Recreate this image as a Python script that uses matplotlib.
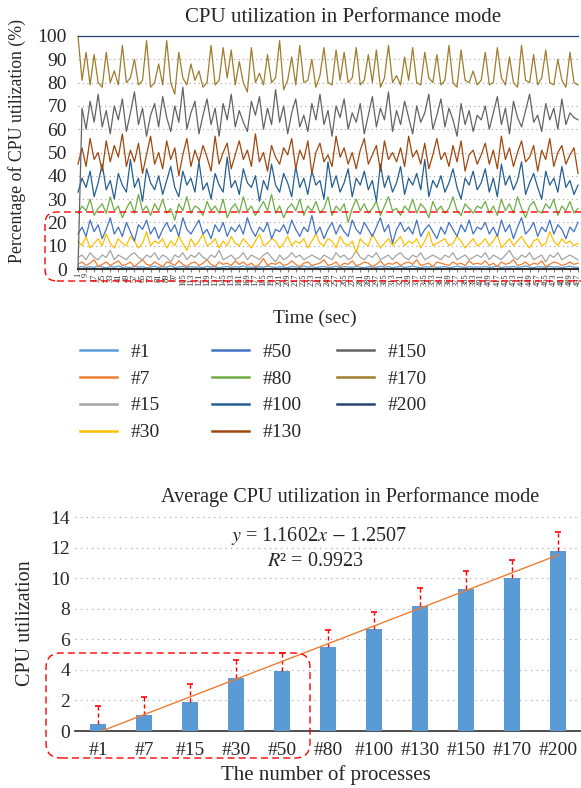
import matplotlib
matplotlib.use("Agg")
import matplotlib.pyplot as plt
from matplotlib.patches import FancyBboxPatch

# ---- top chart: CPU utilization (%) sampled every 4 s ----
time_sec = list(range(1, 498, 4))
tick_sec = list(range(1, 498, 8))

cpu_1 = [0.8, 1.1, 0.6, 1.0, 0.7, 1.2, 0.9, 0.5, 1.0, 0.8,
         1.3, 0.7, 0.9, 0.6, 1.1, 0.8, 1.0, 0.5, 0.9, 1.2,
         0.7, 1.0, 0.8, 1.4, 0.6, 0.9, 1.1, 0.7, 1.0, 0.8,
         0.9, 0.6, 1.2, 0.8, 1.0, 0.5, 0.9, 1.1, 0.7, 1.0,
         0.8, 1.3, 0.7, 0.9, 0.6, 1.0, 0.8, 1.2, 0.9, 0.7,
         1.0, 0.8, 0.6, 1.1, 0.9, 0.7, 1.3, 0.8, 1.0, 0.6,
         0.9, 1.1, 0.7, 0.8, 1.2, 0.6, 1.0, 0.9, 0.7, 1.1,
         0.8, 0.5, 1.0, 0.9, 0.7, 1.2, 0.8, 1.0, 0.6, 0.9,
         1.1, 0.7, 0.9, 1.3, 0.8, 0.6, 1.0, 0.8, 1.1, 0.7,
         0.9, 1.0, 0.6, 0.8, 1.2, 0.9, 0.7, 1.0, 0.8, 0.9,
         0.8, 1.1, 0.7, 0.9, 1.2, 0.6, 1.0, 0.8, 1.1, 0.7,
         0.9, 1.3, 0.8, 0.6, 1.0, 0.9, 0.7, 1.1, 0.8, 1.0,
         0.6, 0.9, 1.2, 0.8, 0.7]
cpu_7 = [2, 3, 1.5, 2.5, 4, 1, 2, 3, 1.5, 2.5,
         3.5, 1.5, 2, 3, 1, 2.5, 4, 2, 1.5, 3,
         2, 1, 3, 2.5, 1.5, 3.5, 2, 1, 2.5, 3,
         1.5, 2.5, 4, 2, 1, 3, 2, 2.5, 1.5, 3.5,
         2, 3, 1.5, 2.5, 1, 2, 4.5, 1.5, 2.5, 2,
         3, 1.5, 2, 3.5, 2, 1, 2.5, 3, 1.5, 2,
         2.5, 4, 1.5, 2, 3, 1, 2.5, 2, 3.5, 1.5,
         2, 3, 2.5, 1, 2, 3.5, 1.5, 2.5, 2, 3,
         1.5, 2.5, 3, 2, 4, 1.5, 2, 2.5, 1, 3,
         2.5, 2, 1.5, 3, 2, 2.5, 1.5, 3.5, 2, 2.5,
         2, 3.5, 1.5, 2.5, 1, 3, 2, 2.5, 4, 1.5,
         2, 3, 1.5, 2.5, 2, 3.5, 1, 2, 3, 2.5,
         1.5, 2, 3, 2, 2.5]
cpu_15 = [5, 6, 4, 7, 5, 4, 6, 5, 8, 4,
          6, 5, 4, 6, 7, 5, 4, 6, 5, 7,
          4, 6, 5, 3, 6, 5, 7, 4, 6, 5,
          7, 5, 4, 6, 5, 8, 4, 5, 6, 4,
          5, 7, 4, 6, 5, 4, 6, 7, 5, 3,
          6, 4, 5, 7, 5, 6, 4, 5, 6, 5,
          4, 6, 5, 4, 7, 5, 6, 4, 5, 8,
          5, 4, 6, 5, 7, 4, 5, 6, 4, 6,
          7, 5, 4, 6, 5, 7, 4, 5, 6, 5,
          4, 6, 5, 7, 4, 5, 6, 4, 5, 6,
          5, 7, 4, 6, 5, 4, 6, 8, 5, 4,
          6, 5, 7, 4, 5, 6, 3, 6, 5, 7,
          4, 5, 6, 5, 4]
cpu_30 = [12, 10, 14, 9, 11, 13, 10, 15, 11, 9,
          13, 11, 10, 14, 12, 9, 11, 16, 10, 12,
          11, 13, 9, 12, 10, 14, 11, 8, 13, 10,
          12, 15, 10, 11, 13, 9, 12, 10, 14, 11,
          10, 13, 11, 9, 12, 15, 10, 11, 13, 12,
          9, 11, 14, 10, 12, 11, 13, 9, 12, 15,
          11, 10, 13, 12, 9, 14, 11, 10, 12, 7,
          13, 11, 10, 15, 12, 9, 11, 13, 10, 12,
          14, 10, 12, 11, 13, 9, 12, 16, 10, 11,
          12, 13, 10, 11, 14, 12, 9, 11, 13, 10,
          11, 13, 10, 12, 15, 9, 11, 13, 10, 12,
          14, 11, 9, 12, 13, 10, 11, 16, 12, 10,
          13, 11, 12, 10, 11]
cpu_50 = [15, 18, 14, 21, 16, 19, 13, 17, 22, 15,
          18, 14, 20, 16, 12, 19, 17, 21, 15, 18,
          13, 17, 20, 16, 19, 14, 22, 17, 15, 18,
          21, 15, 17, 13, 19, 16, 20, 14, 18, 16,
          19, 15, 22, 17, 14, 18, 16, 20, 13, 17,
          16, 19, 15, 21, 17, 14, 18, 16, 23, 15,
          18, 13, 17, 20, 15, 19, 16, 14, 21, 17,
          15, 20, 17, 14, 18, 22, 16, 19, 11, 17,
          20, 16, 18, 15, 21, 14, 17, 19, 16, 13,
          18, 15, 20, 17, 14, 19, 16, 21, 15, 18,
          17, 20, 15, 18, 14, 21, 16, 19, 13, 18,
          22, 15, 17, 20, 14, 18, 16, 21, 15, 19,
          17, 13, 18, 16, 20]
cpu_80 = [24, 27, 25, 30, 23, 26, 28, 24, 31, 25,
          27, 22, 26, 29, 24, 32, 25, 27, 23, 28,
          25, 30, 24, 26, 21, 28, 25, 31, 24, 27,
          26, 23, 29, 25, 27, 24, 30, 22, 26, 28,
          24, 31, 25, 27, 23, 26, 29, 25, 32, 24,
          27, 22, 26, 28, 25, 30, 23, 27, 25, 29,
          24, 26, 31, 23, 27, 25, 28, 20, 26, 30,
          25, 28, 24, 26, 29, 23, 27, 31, 25, 26,
          23, 27, 25, 30, 24, 28, 26, 22, 29, 25,
          27, 24, 26, 31, 25, 23, 28, 26, 24, 27,
          26, 29, 24, 27, 23, 30, 25, 28, 24, 31,
          26, 22, 27, 29, 25, 24, 28, 26, 30, 23,
          27, 25, 29, 24, 26]
cpu_100 = [33, 39, 35, 42, 31, 37, 45, 34, 38, 30,
           41, 36, 33, 47, 35, 39, 29, 43, 37, 34,
           40, 32, 38, 44, 35, 31, 42, 36, 39, 33,
           46, 34, 37, 30, 41, 36, 33, 48, 35, 38,
           32, 43, 37, 35, 40, 29, 38, 34, 45, 36,
           33, 41, 37, 31, 44, 35, 39, 32, 42, 36,
           38, 30, 46, 35, 40, 33, 37, 43, 31, 39,
           36, 42, 34, 38, 29, 45, 35, 40, 33, 37,
           44, 32, 39, 36, 41, 34, 47, 31, 38, 35,
           40, 33, 37, 43, 35, 30, 39, 36, 42, 34,
           37, 43, 33, 39, 31, 45, 36, 40, 34, 38,
           46, 32, 37, 41, 35, 30, 42, 36, 39, 33,
           44, 35, 38, 32, 36]
cpu_130 = [45, 52, 44, 56, 47, 50, 42, 55, 46, 53,
           48, 58, 44, 51, 46, 54, 41, 49, 57, 45,
           50, 43, 55, 47, 52, 40, 49, 56, 44, 51,
           46, 53, 48, 42, 57, 45, 50, 54, 43, 49,
           55, 47, 51, 44, 58, 46, 50, 42, 53, 48,
           45, 52, 49, 56, 43, 51, 47, 55, 41, 50,
           54, 46, 49, 44, 57, 48, 52, 45, 50, 43,
           51, 56, 45, 49, 53, 42, 55, 47, 50, 46,
           52, 44, 57, 48, 51, 45, 54, 43, 49, 56,
           47, 50, 44, 53, 46, 55, 42, 49, 51, 45,
           49, 54, 45, 51, 43, 57, 47, 52, 44, 50,
           55, 46, 48, 53, 42, 51, 47, 56, 44, 50,
           53, 45, 49, 52, 41]
cpu_150 = [0, 69, 60, 72, 63, 75, 61, 68, 58, 70,
           64, 73, 59, 67, 76, 62, 69, 57, 66, 71,
           61, 74, 65, 59, 70, 63, 78, 60, 67, 72,
           58, 66, 73, 62, 69, 57, 71, 64, 75, 61,
           68, 63, 59, 72, 66, 74, 60, 69, 62, 77,
           63, 70, 58, 67, 73, 61, 66, 59, 71, 64,
           75, 62, 68, 57, 70, 65, 73, 60, 67, 63,
           71, 58, 66, 74, 61, 69, 64, 76, 59, 68,
           62, 72, 65, 58, 70, 63, 67, 75, 60, 66,
           73, 61, 69, 64, 57, 71, 62, 68, 59, 66,
           64, 70, 60, 67, 74, 62, 69, 58, 72, 65,
           61, 68, 75, 63, 66, 59, 71, 64, 69, 60,
           73, 62, 67, 65, 64]
cpu_170 = [100, 81, 93, 79, 92, 80, 78, 93, 80, 85,
           79, 96, 80, 82, 90, 79, 81, 98, 78, 80,
           88, 79, 98, 80, 75, 93, 82, 79, 88, 81,
           85, 78, 80, 96, 79, 81, 95, 82, 94, 79,
           89, 80, 76, 95, 80, 84, 79, 92, 80, 82,
           98, 77, 81, 91, 79, 96, 80, 81, 90, 78,
           83, 95, 80, 79, 94, 81, 93, 80, 82, 95,
           79, 81, 92, 80, 94, 78, 82, 96, 80, 83,
           79, 91, 81, 95, 80, 79, 93, 82, 80, 92,
           79, 81, 96, 80, 78, 94, 81, 80, 85, 79,
           81, 93, 79, 80, 95, 82, 79, 91, 80, 78,
           96, 81, 80, 92, 79, 82, 94, 80, 79, 90,
           81, 78, 93, 80, 79]
cpu_200 = [100.0] * len(time_sec)

series_names = ["#1", "#7", "#15", "#30", "#50", "#80",
                "#100", "#130", "#150", "#170", "#200"]
series_values = [cpu_1, cpu_7, cpu_15, cpu_30, cpu_50, cpu_80,
                 cpu_100, cpu_130, cpu_150, cpu_170, cpu_200]
series_colors = ["#5B9BD5", "#ED7D31", "#A5A5A5", "#FFC000", "#4472C4",
                 "#70AD47", "#255E91", "#9E480E", "#636363", "#9E7D2C",
                 "#264478"]

# ---- bottom chart: average CPU utilization ----
processes = ["#1", "#7", "#15", "#30", "#50", "#80",
             "#100", "#130", "#150", "#170", "#200"]
avg_cpu = [0.46, 1.05, 1.92, 3.47, 3.92, 5.49, 6.67, 8.18, 9.31, 10.0, 11.77]
avg_err = [1.17, 1.19, 1.15, 1.17, 1.16, 1.14, 1.13, 1.19, 1.17, 1.18, 1.23]
fit_slope = 1.1602
fit_intercept = -1.2507
fit_r2 = 0.9923

W, H = 581, 788
TXT = "#262626"


def fx(px):
    return px / W


def fy(py):
    return 1 - py / H


def main():
    plt.rcParams["font.family"] = ["Liberation Serif", "DejaVu Serif"]
    plt.rcParams["mathtext.fontset"] = "stix"
    plt.rcParams["text.color"] = TXT
    plt.rcParams["xtick.color"] = TXT
    plt.rcParams["ytick.color"] = TXT

    fig = plt.figure(figsize=(W / 100, H / 100), dpi=100)

    # Top chart
    ax1 = fig.add_axes([fx(78), fy(269), fx(500), 233 / H])
    lines = []
    for name, vals, col in zip(series_names, series_values, series_colors):
        ln, = ax1.plot(time_sec, vals, color=col, lw=0.9, label=name,
                       clip_on=False)
        lines.append(ln)
    ax1.set_xlim(1, 497)
    ax1.set_ylim(0, 100)
    ax1.set_yticks(range(0, 101, 10))
    ax1.set_xticks(tick_sec)
    ax1.set_xticklabels([str(t) for t in tick_sec], rotation=90, fontsize=6)
    ax1.tick_params(axis="y", length=0, labelsize=14, pad=8)
    ax1.tick_params(axis="x", length=2, pad=1, color="#808080")
    ax1.yaxis.grid(True, ls=(0, (1, 3)), color="#A0A0A0", lw=0.8)
    ax1.set_axisbelow(True)
    for s in ["top", "right", "left"]:
        ax1.spines[s].set_visible(False)
    ax1.spines["bottom"].set_color("#303030")
    ax1.spines["bottom"].set_linewidth(1.5)

    fig.text(fx(343), fy(17), "CPU utilization in Performance mode",
             ha="center", va="center", fontsize=15)
    fig.text(fx(17), fy(141), "Percentage of CPU utilization (%)",
             ha="center", va="center", rotation=90, fontsize=12.8)
    fig.text(fx(315), fy(318), "Time (sec)", ha="center", va="center",
             fontsize=14)

    # Legend in three columns
    cols = [(80, lines[0:4]), (212, lines[4:8]), (337, lines[8:11])]
    for x0, hs in cols:
        leg = fig.legend(handles=hs, loc="upper left",
                         bbox_to_anchor=(fx(x0), fy(343)), frameon=False,
                         fontsize=14, handlelength=1.9, handletextpad=0.7,
                         labelspacing=0.48, borderpad=0, borderaxespad=0)
        for lh in leg.get_lines():
            lh.set_linewidth(1.8)

    # Bottom chart
    ax2 = fig.add_axes([fx(75), fy(731), fx(506), 214 / H])
    pos = list(range(len(processes)))
    ax2.bar(pos, avg_cpu, width=0.33, color="#5B9BD5", zorder=3)
    tops = [v + e for v, e in zip(avg_cpu, avg_err)]
    ax2.vlines(pos, avg_cpu, tops, colors="red", linestyles=(0, (3, 2)),
               lw=1.0, zorder=4)
    ax2.plot(pos, tops, ls="none", marker="_", color="red", ms=4, mew=1.2,
             zorder=4)
    fit_x = [pos[0], pos[-1]]
    fit_y = [fit_slope * (p + 1) + fit_intercept for p in fit_x]
    ax2.plot(fit_x, fit_y, color="#ED7D31", lw=1.0, zorder=5)
    ax2.set_xlim(-0.5, len(processes) - 0.5)
    ax2.set_ylim(0, 14)
    ax2.set_yticks(range(0, 15, 2))
    ax2.set_xticks(pos)
    ax2.set_xticklabels(processes)
    ax2.tick_params(axis="both", length=0, labelsize=14)
    ax2.tick_params(axis="x", pad=8)
    ax2.yaxis.grid(True, ls=(0, (1, 4)), color="#A0A0A0", lw=0.8)
    ax2.set_axisbelow(True)
    for s in ["top", "right", "left"]:
        ax2.spines[s].set_visible(False)
    ax2.spines["bottom"].set_color("#303030")
    ax2.spines["bottom"].set_linewidth(1.2)

    fig.text(fx(350), fy(497), "Average CPU utilization in Performance mode",
             ha="center", va="center", fontsize=14.6)
    fig.text(fx(26), fy(623), "CPU utilization", ha="center", va="center",
             rotation=90, fontsize=14.5)
    fig.text(fx(326), fy(775), "The number of processes", ha="center",
             va="center", fontsize=15)
    fig.text(fx(319), fy(536),
             r"$y$ = %.4f$x$ $-$ %.4f" % (fit_slope, -fit_intercept),
             ha="center", va="center", fontsize=14.5)
    fig.text(fx(315), fy(562), r"$R$" + "\u00b2 = %.4f" % fit_r2,
             ha="center", va="center", fontsize=14.5)

    # Red dashed highlight boxes
    box_kw = dict(fill=False, ec="red", lw=1.0, ls=(0, (5, 3)),
                  transform=None, clip_on=False)
    fig.patches.append(FancyBboxPatch((45, H - 281), 560, 69,
                                      boxstyle="round,pad=0,rounding_size=12",
                                      **box_kw))
    fig.patches.append(FancyBboxPatch((46, H - 758), 264, 105,
                                      boxstyle="round,pad=0,rounding_size=15",
                                      **box_kw))

    fig.savefig("out.png", dpi=100)


if __name__ == "__main__":
    main()
